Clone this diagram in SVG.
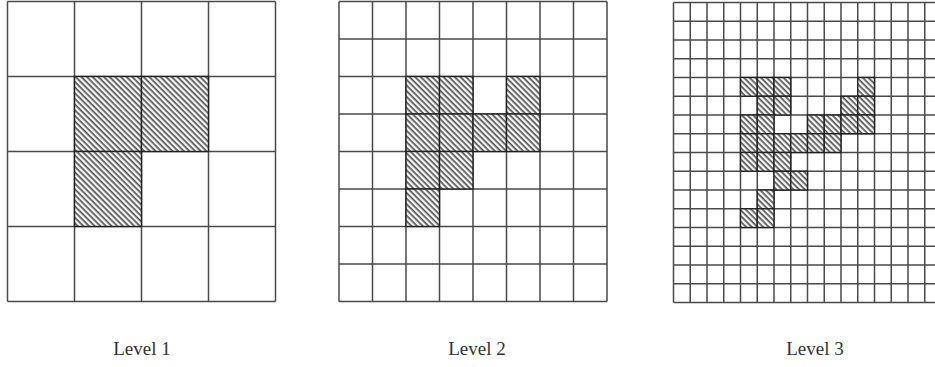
<svg xmlns="http://www.w3.org/2000/svg" width="935" height="367" viewBox="0 0 935 367">
<defs>
<pattern id="hatch" patternUnits="userSpaceOnUse" width="4" height="4" patternTransform="rotate(45)">
<rect x="0" y="0" width="4" height="4" fill="#f7f7f7"/>
<rect x="0" y="0" width="4" height="1.7" fill="#555"/>
</pattern>
</defs>
<style>
.grid{fill:none;stroke:#4a4a4a;stroke-width:1.5}
.shade{fill:url(#hatch);stroke:#222;stroke-width:1.4}
.lbl{font-family:"Liberation Serif","Times New Roman",serif;font-size:19px;fill:#333;text-anchor:middle}
</style>
<rect width="935" height="367" fill="#fff"/>

<g id="level1">
<path class="grid" d="M7.5 1.5V301.5M74.5 1.5V301.5M141.5 1.5V301.5M208.5 1.5V301.5M275.5 1.5V301.5M7.5 1.5H275.5M7.5 76.5H275.5M7.5 151.5H275.5M7.5 226.5H275.5M7.5 301.5H275.5"/>
<rect class="shade" x="74.5" y="76.5" width="67" height="75"/>
<rect class="shade" x="141.5" y="76.5" width="67" height="75"/>
<rect class="shade" x="74.5" y="151.5" width="67" height="75"/>
<text class="lbl" x="142" y="355">Level 1</text>
</g>

<g id="level2">
<path class="grid" d="M339 1.5V301.5M372.5 1.5V301.5M406 1.5V301.5M439.5 1.5V301.5M473 1.5V301.5M506.5 1.5V301.5M540 1.5V301.5M573.5 1.5V301.5M607 1.5V301.5M339 1.5H607M339 39H607M339 76.5H607M339 114H607M339 151.5H607M339 189H607M339 226.5H607M339 264H607M339 301.5H607"/>
<rect class="shade" x="406" y="76.5" width="33.5" height="37.5"/>
<rect class="shade" x="439.5" y="76.5" width="33.5" height="37.5"/>
<rect class="shade" x="506.5" y="76.5" width="33.5" height="37.5"/>
<rect class="shade" x="406" y="114" width="33.5" height="37.5"/>
<rect class="shade" x="439.5" y="114" width="33.5" height="37.5"/>
<rect class="shade" x="473" y="114" width="33.5" height="37.5"/>
<rect class="shade" x="506.5" y="114" width="33.5" height="37.5"/>
<rect class="shade" x="406" y="151.5" width="33.5" height="37.5"/>
<rect class="shade" x="439.5" y="151.5" width="33.5" height="37.5"/>
<rect class="shade" x="406" y="189" width="33.5" height="37.5"/>
<text class="lbl" x="477" y="355">Level 2</text>
</g>

<g id="level3">
<path class="grid" d="M673.5 2.5V302.5M690.25 2.5V302.5M707 2.5V302.5M723.75 2.5V302.5M740.5 2.5V302.5M757.25 2.5V302.5M774 2.5V302.5M790.75 2.5V302.5M807.5 2.5V302.5M824.25 2.5V302.5M841 2.5V302.5M857.75 2.5V302.5M874.5 2.5V302.5M891.25 2.5V302.5M908 2.5V302.5M924.75 2.5V302.5M941.5 2.5V302.5M673.5 2.5H941.5M673.5 21.25H941.5M673.5 40H941.5M673.5 58.75H941.5M673.5 77.5H941.5M673.5 96.25H941.5M673.5 115H941.5M673.5 133.75H941.5M673.5 152.5H941.5M673.5 171.25H941.5M673.5 190H941.5M673.5 208.75H941.5M673.5 227.5H941.5M673.5 246.25H941.5M673.5 265H941.5M673.5 283.75H941.5M673.5 302.5H941.5"/>
<rect class="shade" x="740.5" y="77.5" width="16.75" height="18.75"/>
<rect class="shade" x="757.25" y="77.5" width="16.75" height="18.75"/>
<rect class="shade" x="774" y="77.5" width="16.75" height="18.75"/>
<rect class="shade" x="857.75" y="77.5" width="16.75" height="18.75"/>
<rect class="shade" x="757.25" y="96.25" width="16.75" height="18.75"/>
<rect class="shade" x="774" y="96.25" width="16.75" height="18.75"/>
<rect class="shade" x="841" y="96.25" width="16.75" height="18.75"/>
<rect class="shade" x="857.75" y="96.25" width="16.75" height="18.75"/>
<rect class="shade" x="740.5" y="115" width="16.75" height="18.75"/>
<rect class="shade" x="757.25" y="115" width="16.75" height="18.75"/>
<rect class="shade" x="807.5" y="115" width="16.75" height="18.75"/>
<rect class="shade" x="824.25" y="115" width="16.75" height="18.75"/>
<rect class="shade" x="841" y="115" width="16.75" height="18.75"/>
<rect class="shade" x="857.75" y="115" width="16.75" height="18.75"/>
<rect class="shade" x="740.5" y="133.75" width="16.75" height="18.75"/>
<rect class="shade" x="757.25" y="133.75" width="16.75" height="18.75"/>
<rect class="shade" x="774" y="133.75" width="16.75" height="18.75"/>
<rect class="shade" x="790.75" y="133.75" width="16.75" height="18.75"/>
<rect class="shade" x="807.5" y="133.75" width="16.75" height="18.75"/>
<rect class="shade" x="824.25" y="133.75" width="16.75" height="18.75"/>
<rect class="shade" x="740.5" y="152.5" width="16.75" height="18.75"/>
<rect class="shade" x="757.25" y="152.5" width="16.75" height="18.75"/>
<rect class="shade" x="774" y="152.5" width="16.75" height="18.75"/>
<rect class="shade" x="774" y="171.25" width="16.75" height="18.75"/>
<rect class="shade" x="790.75" y="171.25" width="16.75" height="18.75"/>
<rect class="shade" x="757.25" y="190" width="16.75" height="18.75"/>
<rect class="shade" x="740.5" y="208.75" width="16.75" height="18.75"/>
<rect class="shade" x="757.25" y="208.75" width="16.75" height="18.75"/>
<text class="lbl" x="815" y="355">Level 3</text>
</g>
</svg>
